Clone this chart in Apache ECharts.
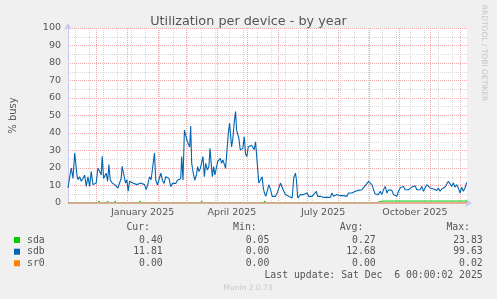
<!DOCTYPE html>
<html><head><meta charset="utf-8">
<script src="https://cdn.jsdelivr.net/npm/echarts@6/dist/echarts.min.js"></script>
<style>html,body{margin:0;padding:0;background:#f0f0f0}#c{width:497px;height:299px}</style>
</head><body><div id="c"></div>
<script>
// ---- data (x = days since left edge of the 400-day window, ~2 Nov 2024) ----
const titleText = 'Utilization per device - by year';
const yTickValues = [0,10,20,30,40,50,60,70,80,90,100];
const monthStartDays = [28.3,59.3,90.3,118.3,149.3,179.3,210.3,240.3,271.3,302.3,332.3,363.3,393.3];
const minorGridDays = [7.3,21.3,35.3,49.3,63.3,77.3,91.3,105.3,119.3,133.3,147.3,161.3,175.3,189.3,203.3,217.3,231.3,245.3,259.3,273.3,287.3,301.3,315.3,329.3,343.3,357.3,371.3,385.3];
const monthLabelDays = [74.8,164.3,255.8,347.8];
const monthLabels = ['January 2025','April 2025','July 2025','October 2025'];

const sdbDay = [0,1.7,3.3,5,6.7,7.7,9,10,11.7,13.3,15,16.7,18.3,20,21.7,23.3,25,26.7,28.3,30,31.7,33.3,34.3,35.7,37,38.3,39.7,41,42.3,44.3,46.7,48.3,50,51.7,53.3,54.3,55.7,57.7,59,60.3,61.7,63.3,65,66.7,69,71,73,75,76.7,78.3,80,81.7,83.3,85,86.7,88,89.7,91.3,93,94.7,96.3,98,99.7,101.3,103,104.7,106.3,108,109.7,111.3,113,114,115.3,116.7,118,119.7,120.7,122,123,124,125.3,127,128.7,130,131.3,132.7,134,135.3,136.7,138,139.7,141.3,142.3,143.3,144.7,146,147.3,148.7,150,151.3,152.7,154,155.3,156.7,158,159.3,160.7,162,163.3,164,165.3,166.7,168,169,170.3,171.3,172.7,174,175.3,176.7,178,179.3,180.7,182.3,184,185.3,186.7,188,189.7,191.3,193,194.7,195.7,197,198.3,199.7,201.3,203,204.7,206.3,208,209.7,211.3,213,214.7,216.3,218,219.7,221.3,223,224.7,226.3,228,229,230.3,231.7,233,236.3,238,239.7,241.3,243,244.7,246.3,249,250.3,253,256.3,259.7,263,264.7,266.3,268,269.7,271.3,273,274.7,276.3,278,279.7,281.3,283,284.7,286.3,288,289.7,291.3,293,294.7,296.3,298,299.7,301.3,303,304.7,306.3,308,309.7,311.3,313,314.7,316.3,318,319.7,321.3,323,324.7,326.3,328,329.7,331.3,333,334.7,336.3,338,339.7,341.3,343,344.7,346.3,348,349.7,351.3,353,354.7,356.3,358,359.7,361.3,363,364.7,366.3,368,369.7,371.3,373,374.7,376.3,378,379.7,381.3,383,384.7,386.3,388,389.7,391.3,393,394.7,396.3,398,399.7];
const sdbVal = [8.6,15,20,14,28.6,29.5,16,13.3,15,12.4,14,16,9.5,15,9.5,18,10.5,9.5,11.4,20,18,16,26.7,14,13.3,17,12.4,22,13.3,11.4,10.5,9.5,8.6,9.5,14,21,20,11.4,13.3,6.7,12.4,13.3,11.4,10.5,10.5,9.5,11.4,12.4,10.5,7.6,10.5,15,13.3,14,28.5,13,10.3,9.3,17,13,11.2,15,16,14,9.3,11.2,12.2,11.2,13,12.2,14,26.5,13,41.7,42.7,35,36,32,44,22.7,18,13,16,20.8,18,19.8,18.9,26.5,15,22.7,18.9,20.8,31.2,24.6,15,20.8,16,15,23.6,22.7,25.5,22.7,24.6,25.5,19.8,18.9,39.8,45.5,44.6,32,37,46.5,52.2,41.7,40.8,37,30.3,29.3,31.2,37.9,28,26.5,32,33,33,32,30.5,35,35,11.4,12.4,15,8.6,5.7,3.8,6.7,10.5,7.6,3.8,4.8,3.8,5.7,4.8,11.4,12.4,6.7,4.8,4.8,3.8,3.8,2.9,14.3,17.1,13.3,2.9,3.8,4.8,4.8,3.8,5.7,3.8,4.8,3.8,2.9,6.7,3.8,3.8,3.2,3.2,3.2,5.7,3.8,3.8,4.8,3.8,4.2,5.1,4.2,5.1,3.8,5.7,4.8,5.7,5.3,6.7,6.1,7.2,6.7,7.6,7.2,9.9,10.5,12.4,13.3,10.5,7.6,5.1,5.7,4.8,6.7,4.8,7.6,9.5,5.7,7.6,6.7,7.2,4.8,5.7,3.8,6.7,8.6,7.6,9.5,7.6,8.6,7.6,8.0,9.1,8.0,9.9,7.6,8.6,7.6,9.5,6.7,8.6,10.5,11.4,8.6,7.6,8.0,7.6,7.2,8.6,6.7,8.0,7.2,9.1,8.6,12.4,13.3,9.5,11.4,9.1,10.5,8.6,5.7,9.1,6.7,8.6,11.8];

const sdaDay = [0,30,31,32,39,39.7,40.5,47,47.3,48,71.5,72.3,73,133,134,135,196.5,197.3,198,308,309,316,317,318,319,330,331,332,400];
const sdaVal = [0.05,0.05,1.2,0.05,0.05,1.2,0.05,0.05,1.2,0.05,0.05,1.2,0.05,0.05,1.2,0.05,0.05,1.2,0.05,0.05,1.1,1.1,0.05,0.05,1.1,1.1,1.1,1.1,1.1];
const sr0Day = [0,400];
const sr0Val = [0,0];

const legendNames = ['sda','sdb','sr0'];
const legendColors = ['#00CC00','#0066B3','#FF8000'];
const curVals = ['0.40','11.81','0.00'];
const minVals = ['0.05','0.00','0.00'];
const avgVals = ['0.27','12.68','0.00'];
const maxVals = ['23.83','99.63','0.02'];
const lastUpdate = 'Last update: Sat Dec  6 00:00:02 2025';

// ---- chart ----
const zip = (a,b) => a.map((v,i)=>[v,b[i]]);
const chart = echarts.init(document.getElementById('c'), null, {renderer:'canvas'});
const mono = 'DejaVu Sans Mono';
const sans = 'DejaVu Sans';
const txtColor = '#555';

const graphics = [];
graphics.push({type:'text', x:484, y:53, rotation:-Math.PI/2, style:{text:'RRDTOOL / TOBI OETIKER', fill:'#c4c4c4', font:'7.5px '+sans, textAlign:'center', textVerticalAlign:'middle'}});
const colRight = [150,256.7,363.3,470];
const valRight = [162.7,269.3,375.7,482.7];
['Cur:','Min:','Avg:','Max:'].forEach((h,i)=>graphics.push({type:'text', x:colRight[i], y:227, style:{text:h, fill:txtColor, font:'9.8px '+mono, textAlign:'right', textVerticalAlign:'middle'}}));
const rowY = [240,251.7,263.3];
legendNames.forEach((n,r)=>{
  graphics.push({type:'rect', shape:{x:14,y:rowY[r]-3,width:6,height:6}, style:{fill:legendColors[r]}});
  graphics.push({type:'text', x:27, y:rowY[r], style:{text:n, fill:txtColor, font:'9.8px '+mono, textVerticalAlign:'middle'}});
  [curVals,minVals,avgVals,maxVals].forEach((arr,c)=>graphics.push({type:'text', x:valRight[c], y:rowY[r], style:{text:arr[r], fill:txtColor, font:'9.8px '+mono, textAlign:'right', textVerticalAlign:'middle'}}));
});
graphics.push({type:'text', x:482.7, y:275, style:{text:lastUpdate, fill:txtColor, font:'9.8px '+mono, textAlign:'right', textVerticalAlign:'middle'}});
graphics.push({type:'text', x:248, y:288, style:{text:'Munin 2.0.73', fill:'#c8c8c8', font:'7.5px '+sans, textAlign:'center', textVerticalAlign:'middle'}});

const option = {
  backgroundColor:'#f0f0f0',
  animation:false,
  title:{text:titleText, left:'center', top:10, textStyle:{fontFamily:sans, fontSize:12.8, fontWeight:'normal', color:'#555'}},
  grid:{left:67, right:30, top:28, bottom:96, show:true, backgroundColor:'#ffffff', borderWidth:0},
  xAxis:{type:'value', min:0, max:400,
    axisLine:{show:true, lineStyle:{color:'#c8c8f0', width:1}, symbol:['none','arrow'], symbolSize:[6,7], symbolOffset:[0,5]},
    axisTick:{show:false},
    splitLine:{show:false},
    axisLabel:{customValues:monthLabelDays, formatter:(v)=>{const i=monthLabelDays.findIndex(d=>Math.abs(d-v)<0.01); return i>=0?monthLabels[i]:'';}, color:txtColor, fontFamily:sans, fontSize:9.5, margin:5}
  },
  yAxis:{type:'value', min:0, max:100, interval:10,
    name:'% busy', nameLocation:'middle', nameGap:50, nameTextStyle:{color:txtColor, fontFamily:sans, fontSize:10},
    axisLine:{show:true, lineStyle:{color:'#c8c8f0', width:1}, symbol:['none','arrow'], symbolSize:[6,7], symbolOffset:[0,5]},
    axisTick:{show:false},
    axisLabel:{color:txtColor, fontFamily:sans, fontSize:9.5, margin:7},
    splitLine:{show:true, lineStyle:{color:'#f0a8a8', width:1, type:[1,1]}},
    minorTick:{show:false, splitNumber:2},
    minorSplitLine:{show:true, lineStyle:{color:'#d8d8d8', width:1, type:[1,1]}}
  },
  graphic:graphics,
  series:[
    {name:'gridMinor', type:'line', data:[], silent:true, z:1,
      markLine:{silent:true, symbol:'none', z:1, label:{show:false}, lineStyle:{color:'#d8d8d8', width:1, type:[1,1]}, data:minorGridDays.map(d=>({xAxis:d}))}},
    {name:'gridMajor', type:'line', data:[], silent:true, z:1,
      markLine:{silent:true, symbol:'none', z:1, label:{show:false}, lineStyle:{color:'#f0a8a8', width:1, type:[1,1]}, data:monthStartDays.map(d=>({xAxis:d}))}},
    {name:'sr0', type:'line', data:zip(sr0Day,sr0Val), showSymbol:false, z:2, lineStyle:{color:'#FF8000', width:1}},
    {name:'sda', type:'line', data:zip(sdaDay,sdaVal), showSymbol:false, z:3, lineStyle:{color:'#00CC00', width:1}},
    {name:'sdb', type:'line', data:zip(sdbDay,sdbVal), showSymbol:false, z:4, lineStyle:{color:'#0066B3', width:1.1}},
    {name:'zeroLine', type:'line', data:[], silent:true, z:6,
      markLine:{silent:true, symbol:'none', z:6, label:{show:false}, lineStyle:{color:'#e8a898', width:1.5, type:'solid'}, data:[{yAxis:0}]}}
  ]
};
chart.setOption(option);
</script></body></html>
